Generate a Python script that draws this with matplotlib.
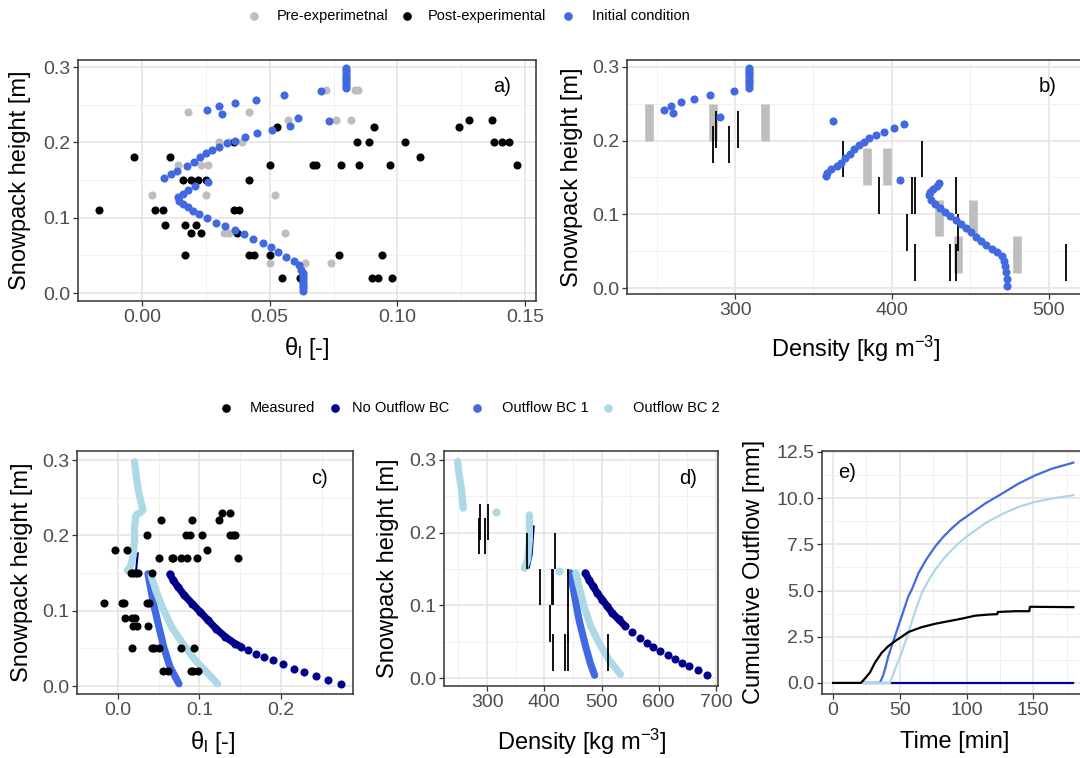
import matplotlib
matplotlib.use("Agg")
import matplotlib.pyplot as plt
from matplotlib.lines import Line2D
from matplotlib import font_manager as fm

# ------------------------------------------------------------------ data
# Panel a -- liquid water content profiles
pre_theta = [0.018, 0.042, 0.072, 0.0834, 0.0845, 0.057, 0.076, 0.082, 0.030, 0.034,
             0.039, 0.014, 0.023, 0.026, 0.004, 0.025, 0.052, 0.032, 0.034, 0.056,
             0.050, 0.064, 0.074]
pre_h = [0.24, 0.24, 0.27, 0.27, 0.27, 0.23, 0.23, 0.23, 0.20, 0.20,
         0.20, 0.17, 0.17, 0.17, 0.13, 0.13, 0.13, 0.08, 0.08, 0.08,
         0.04, 0.04, 0.04]

post_theta = [-0.017, -0.003, 0.011, 0.005, 0.008, 0.009, 0.017, 0.021, 0.019, 0.023,
              0.017, 0.016, 0.019, 0.022, 0.025, 0.042, 0.036, 0.036, 0.038, 0.037,
              0.042, 0.044, 0.050, 0.050, 0.053, 0.055, 0.062, 0.067, 0.068, 0.078,
              0.077, 0.084, 0.085, 0.089, 0.091, 0.094, 0.090, 0.0925, 0.098, 0.097,
              0.103, 0.109, 0.124, 0.128, 0.137, 0.138, 0.141, 0.1436, 0.147]
post_h = [0.11, 0.18, 0.18, 0.11, 0.11, 0.09, 0.09, 0.09, 0.08, 0.08,
          0.05, 0.15, 0.15, 0.15, 0.15, 0.15, 0.20, 0.11, 0.11, 0.08,
          0.05, 0.05, 0.05, 0.17, 0.22, 0.02, 0.02, 0.17, 0.17, 0.17,
          0.05, 0.20, 0.17, 0.20, 0.22, 0.05, 0.02, 0.02, 0.02, 0.17,
          0.20, 0.18, 0.22, 0.23, 0.23, 0.20, 0.20, 0.20, 0.17]

init_theta = [0.0797, 0.0797, 0.0797, 0.0797, 0.0797, 0.0797, 0.0797, 0.0797, 0.0797, 0.0797,
              0.070, 0.0554, 0.0448, 0.0365, 0.0302, 0.0255, 0.0313, 0.0612, 0.0732, 0.0578,
              0.051, 0.0452, 0.0402, 0.0365, 0.0332, 0.0302, 0.0275, 0.0251, 0.0228, 0.0204,
              0.0177, 0.0136, 0.0112, 0.0084, 0.0259, 0.0207, 0.018, 0.016, 0.0142, 0.0146,
              0.016, 0.018, 0.020, 0.0223, 0.0255, 0.0289, 0.0323, 0.0364, 0.040, 0.0436,
              0.0473, 0.0504, 0.0534, 0.0564, 0.0595, 0.0613, 0.0623, 0.0632, 0.0632, 0.0632,
              0.0632, 0.0632, 0.0632, 0.0632, 0.0632, 0.0632]
init_h_a = [0.2985, 0.296, 0.293, 0.290, 0.287, 0.284, 0.281, 0.278, 0.275, 0.272,
            0.2676, 0.2623, 0.2565, 0.252, 0.2477, 0.2423, 0.2375, 0.232, 0.2277, 0.222,
            0.2166, 0.212, 0.207, 0.2024, 0.1988, 0.1944, 0.190, 0.1855, 0.180, 0.1744,
            0.1687, 0.1624, 0.158, 0.1522, 0.148, 0.142, 0.1367, 0.132, 0.128, 0.1225,
            0.118, 0.1136, 0.109, 0.1047, 0.099, 0.0932, 0.0888, 0.0834, 0.078, 0.0723,
            0.0666, 0.0613, 0.0546, 0.0479, 0.0426, 0.0368, 0.0302, 0.027, 0.024, 0.021,
            0.018, 0.015, 0.012, 0.009, 0.006, 0.003]

# Panel b -- density profiles
pre_rho = [245, 286, 319, 384, 397, 430, 452, 442, 480]
pre_rho_lo = [0.20, 0.20, 0.20, 0.14, 0.14, 0.07, 0.07, 0.02, 0.02]
pre_rho_hi = [0.25, 0.25, 0.25, 0.19, 0.19, 0.12, 0.12, 0.07, 0.07]

post_rho = [286, 288, 296, 302, 369, 419, 392, 413, 415, 441, 410, 442, 415, 437, 441, 511]
post_rho_lo = [0.17, 0.19, 0.17, 0.19, 0.15, 0.15, 0.10, 0.10, 0.10, 0.10, 0.05, 0.05, 0.01, 0.01, 0.01, 0.01]
post_rho_hi = [0.22, 0.24, 0.22, 0.24, 0.20, 0.20, 0.15, 0.15, 0.15, 0.15, 0.10, 0.10, 0.06, 0.06, 0.06, 0.06]

init_rho = [308.8, 308.8, 308.8, 308.8, 308.8, 308.8, 308.8, 308.8, 308.8, 308.8,
            299.6, 284.2, 273.6, 265.3, 259.3, 254.3, 260.4, 290.1, 362.6, 407.7,
            401.1, 395.0, 389.7, 385.7, 382.4, 379.1, 375.8, 373.0, 370.3, 367.5,
            364.8, 361.5, 358.9, 358.2, 405.5, 430.1, 428.6, 426.4, 424.2, 423.5,
            425.3, 427.5, 430.8, 434.0, 437.4, 440.7, 444.0, 447.3, 450.5, 453.8,
            457.1, 460.4, 463.7, 467.0, 470.3, 471.9, 472.5, 473.0, 473.2, 473.2]
init_h_b = [0.2985, 0.296, 0.293, 0.290, 0.287, 0.284, 0.281, 0.278, 0.275, 0.272,
            0.267, 0.262, 0.2566, 0.252, 0.2475, 0.2416, 0.237, 0.2315, 0.227, 0.222,
            0.217, 0.212, 0.2078, 0.203, 0.1986, 0.194, 0.188, 0.182, 0.177, 0.170,
            0.165, 0.161, 0.156, 0.152, 0.147, 0.1425, 0.138, 0.134, 0.130, 0.1256,
            0.1196, 0.1137, 0.108, 0.1027, 0.0973, 0.0922, 0.0868, 0.0817, 0.0763, 0.0694,
            0.0639, 0.058, 0.0534, 0.0489, 0.0434, 0.0374, 0.0306, 0.0215, 0.0123, 0.0032]

# Panel c -- simulated liquid water content
noout_theta = [0.064, 0.068, 0.0738, 0.0816, 0.0913, 0.101, 0.1107, 0.1204, 0.132, 0.1437,
               0.1515, 0.160, 0.1697, 0.1794, 0.190, 0.2031, 0.2155, 0.2283, 0.2427, 0.2583, 0.2738]
noout_h = [0.1484, 0.1405, 0.1316, 0.1205, 0.1094, 0.0984, 0.0873, 0.0762, 0.0651, 0.0563,
           0.0518, 0.0474, 0.043, 0.0385, 0.0341, 0.0297, 0.023, 0.0186, 0.0137, 0.0084, 0.0031]
bc1_theta = [0.037, 0.0408, 0.0447, 0.0505, 0.0563, 0.064, 0.075]
bc1_h = [0.149, 0.127, 0.105, 0.0784, 0.0518, 0.0253, 0.003]
bc2_theta = [0.0408, 0.0466, 0.0544, 0.066, 0.0796, 0.0951, 0.1107, 0.1223]
bc2_h = [0.147, 0.127, 0.105, 0.0784, 0.0563, 0.034, 0.0164, 0.003]
upper_theta = [0.0206, 0.0221, 0.0252, 0.0283, 0.031, 0.0272, 0.0221, 0.0206, 0.0206, 0.0194,
               0.0175, 0.0144, 0.0117]
upper_h = [0.2977, 0.282, 0.26, 0.2446, 0.2335, 0.23, 0.2268, 0.211, 0.1936, 0.18,
           0.167, 0.156, 0.1537]
noout_upper_theta = [0.0245, 0.0225]
noout_upper_h = [0.176, 0.154]

# Panel d -- simulated density
noout_rho = [472, 478, 485.5, 492.5, 501, 510, 518.5, 530, 541.6, 553,
             566.5, 579, 590.8, 602.3, 615.6, 628.3, 640, 652.6, 668.8, 685]
noout_rho_h = [0.1445, 0.135, 0.126, 0.117, 0.108, 0.0988, 0.0896, 0.0805, 0.0713, 0.063,
               0.0553, 0.0485, 0.043, 0.037, 0.0311, 0.0256, 0.021, 0.0165, 0.011, 0.0037]
bc1_rho = [446, 452, 460.7, 472, 481, 488]
bc1_rho_h = [0.1445, 0.117, 0.08, 0.044, 0.019, 0.0037]
bc2_rho = [455, 460.7, 469.4, 481, 495.4, 512.7, 533]
bc2_rho_h = [0.1445, 0.126, 0.0988, 0.0713, 0.0485, 0.0256, 0.005]
upper_rho1 = [248.6, 250.9, 255.5, 258.4]
upper_rho1_h = [0.2977, 0.2817, 0.2588, 0.2336]
upper_rho2 = [374, 374, 371, 365.3]
upper_rho2_h = [0.2245, 0.19, 0.163, 0.151]
upper_pts_rho = [316.2, 426]
upper_pts_h = [0.2277, 0.1468]
noout_upper_rho = [381.5, 378, 373]
noout_upper_rho_h = [0.2085, 0.17, 0.152]

# Panel e -- cumulative outflow
meas_t = [0, 20.8, 23.8, 27.6, 31.4, 36.4, 41.4, 46.4, 51.4, 56.4, 61.5, 66.5, 76.5,
          86.5, 96.6, 106.6, 116.6, 123, 123.5, 136.7, 147, 147.5, 180]
meas_q = [0, 0, 0.23, 0.56, 1.1, 1.63, 1.99, 2.26, 2.5, 2.75, 2.89, 3.02, 3.2,
          3.34, 3.48, 3.64, 3.7, 3.72, 3.84, 3.88, 3.88, 4.12, 4.1]
noout_t = [22, 180]
noout_q = [0, 0]
bc1_t = [22, 35, 37.5, 39.5, 41.4, 43.9, 46.4, 48.9, 51.4, 53.9, 56.4, 58.9, 64, 70, 76.5,
         82.5, 89, 95, 101.6, 114, 126.7, 139, 151.7, 164.3, 180]
bc1_q = [0, 0, 0.4, 0.9, 1.45, 1.99, 2.53, 3.07, 3.6, 4.15, 4.69, 5.04, 5.94, 6.7, 7.38,
         7.9, 8.37, 8.75, 9.08, 9.71, 10.25, 10.79, 11.24, 11.6, 11.92]
bc2_t = [22, 42.6, 44.5, 46.4, 51.4, 56.4, 61.5, 66.5, 71.5, 76.5, 82.5, 89, 95, 101.6,
         114, 126.7, 139, 151.7, 164.3, 180]
bc2_q = [0, 0, 0.35, 0.74, 1.63, 2.71, 3.88, 4.87, 5.55, 6.12, 6.7, 7.2, 7.62, 8.0,
         8.64, 9.14, 9.53, 9.8, 9.98, 10.16]

# ------------------------------------------------------------------ style
names = {f.name for f in fm.fontManager.ttflist}
FONT = "Liberation Sans" if "Liberation Sans" in names else "DejaVu Sans"
plt.rcParams["font.family"] = [FONT, "DejaVu Sans"]
plt.rcParams["mathtext.fontset"] = "custom"
plt.rcParams["mathtext.rm"] = FONT
plt.rcParams["mathtext.it"] = FONT
plt.rcParams["axes.unicode_minus"] = True

GREY = "#BEBEBE"
BLUE = "#4169E1"
NAVY = "#00008B"
LBLUE = "#ADD8E6"
W, H = 1080, 758

fig = plt.figure(figsize=(W / 100, H / 100), dpi=100)


def add_ax(l, r, t, b):
    return fig.add_axes([l / W, 1 - b / H, (r - l) / W, (b - t) / H])


def ftext(x, y, s, **kw):
    fig.text(x / W, 1 - y / H, s, **kw)


def style(ax, xlim, ylim, xmaj, xlab, xmin, ymaj, ylab, ymin):
    ax.set_xlim(xlim)
    ax.set_ylim(ylim)
    ax.set_xticks(xmaj)
    ax.set_xticklabels(xlab)
    ax.set_xticks(xmin, minor=True)
    ax.set_yticks(ymaj)
    ax.set_yticklabels(ylab)
    ax.set_yticks(ymin, minor=True)
    ax.grid(which="major", color="#E5E5E5", lw=1.2)
    ax.grid(which="minor", color="#F0F0F0", lw=0.7)
    ax.set_axisbelow(True)
    for s in ax.spines.values():
        s.set_color("#333333")
        s.set_linewidth(1.1)
    ax.tick_params(which="major", length=3.5, width=0.9, color="#333333",
                   labelsize=14, labelcolor="#4D4D4D", pad=2)
    ax.tick_params(which="minor", length=0)


Y_MAJ = [0.0, 0.1, 0.2, 0.3]
Y_LAB = ["0.0", "0.1", "0.2", "0.3"]
Y_MIN = [0.05, 0.15, 0.25]
PT = 34
TL = 17
THETA = "\u03b8$_\\mathregular{l}$ [-]"
DENS = "Density [kg m$^{\\mathregular{\u22123}}$]"

# ---- panel a
ax = add_ax(78, 536, 60, 301)
style(ax, (-0.0251, 0.1543), (-0.0106, 0.3093),
      [0.0, 0.05, 0.10, 0.15], ["0.00", "0.05", "0.10", "0.15"], [-0.025, 0.025, 0.075, 0.125],
      Y_MAJ, Y_LAB, Y_MIN)
ax.scatter(pre_theta, pre_h, s=PT, color=GREY, linewidths=0, zorder=3)
ax.scatter(post_theta, post_h, s=PT, color="black", linewidths=0, zorder=3)
ax.scatter(init_theta, init_h_a, s=PT, color=BLUE, linewidths=0, zorder=4)
ftext(502, 86, "a)", fontsize=14.5, ha="center", va="center")
ftext(307, 348, THETA, fontsize=TL, ha="center", va="center")
ftext(20, 180, "Snowpack height [m]", fontsize=TL, ha="center", va="center", rotation=90)

# ---- panel b
ax = add_ax(627, 1083, 60, 294)
style(ax, (231, 522), (-0.008, 0.3093),
      [300, 400, 500], ["300", "400", "500"], [250, 350, 450],
      Y_MAJ, Y_LAB, Y_MIN)
ax.vlines(pre_rho, pre_rho_lo, pre_rho_hi, color=GREY, lw=6.2, zorder=2)
ax.vlines(post_rho, post_rho_lo, post_rho_hi, color="black", lw=1.3, zorder=3)
ax.scatter(init_rho, init_h_b, s=PT, color=BLUE, linewidths=0, zorder=4)
ftext(1048, 86, "b)", fontsize=14.5, ha="center", va="center")
ftext(856, 349, DENS, fontsize=TL, ha="center", va="center")
ftext(572, 177, "Snowpack height [m]", fontsize=TL, ha="center", va="center", rotation=90)

# ---- panel c
LW = 5.2
ax = add_ax(77, 353, 451, 694)
style(ax, (-0.0326, 0.2884), (-0.0106, 0.312),
      [0.0, 0.1, 0.2], ["0.0", "0.1", "0.2"], [-0.05, 0.05, 0.15, 0.25],
      Y_MAJ, Y_LAB, Y_MIN)
ax.plot(noout_theta[:11], noout_h[:11], color=NAVY, lw=LW, solid_capstyle="round", zorder=2)
ax.scatter(noout_theta, noout_h, s=PT, color=NAVY, linewidths=0, zorder=2)
ax.plot(noout_upper_theta, noout_upper_h, color=NAVY, lw=1.5, zorder=2)
ax.plot(bc1_theta, bc1_h, color=BLUE, lw=LW, solid_capstyle="round", zorder=3)
ax.plot(bc2_theta, bc2_h, color=LBLUE, lw=LW, solid_capstyle="round", zorder=4)
ax.plot(upper_theta, upper_h, color=LBLUE, lw=LW, solid_capstyle="round",
        solid_joinstyle="round", zorder=4)
ax.scatter(post_theta, post_h, s=PT, color="black", linewidths=0, zorder=5)
ftext(320, 479, "c)", fontsize=14.5, ha="center", va="center")
ftext(213, 742, THETA, fontsize=TL, ha="center", va="center")
ftext(22, 572, "Snowpack height [m]", fontsize=TL, ha="center", va="center", rotation=90)

# ---- panel d
ax = add_ax(444, 718, 451, 686)
style(ax, (224.8, 703.5), (-0.011, 0.3123),
      [300, 400, 500, 600, 700], ["300", "400", "500", "600", "700"],
      [250, 350, 450, 550, 650], Y_MAJ, Y_LAB, Y_MIN)
ax.plot(noout_rho[:9], noout_rho_h[:9], color=NAVY, lw=LW, solid_capstyle="round", zorder=2)
ax.scatter(noout_rho, noout_rho_h, s=PT, color=NAVY, linewidths=0, zorder=2)
ax.plot(noout_upper_rho, noout_upper_rho_h, color=NAVY, lw=1.5, zorder=2)
ax.plot(bc1_rho, bc1_rho_h, color=BLUE, lw=LW, solid_capstyle="round", zorder=3)
ax.plot(bc2_rho, bc2_rho_h, color=LBLUE, lw=LW, solid_capstyle="round", zorder=4)
ax.plot(upper_rho1, upper_rho1_h, color=LBLUE, lw=LW, solid_capstyle="round", zorder=4)
ax.plot(upper_rho2, upper_rho2_h, color=LBLUE, lw=LW, solid_capstyle="round", zorder=4)
ax.scatter(upper_pts_rho, upper_pts_h, s=PT, color=LBLUE, linewidths=0, zorder=4)
ax.vlines(post_rho, post_rho_lo, post_rho_hi, color="black", lw=1.3, zorder=5)
ftext(688, 479, "d)", fontsize=14.5, ha="center", va="center")
ftext(582, 742, DENS, fontsize=TL, ha="center", va="center")
ftext(388, 568, "Snowpack height [m]", fontsize=TL, ha="center", va="center", rotation=90)

# ---- panel e
ax = add_ax(822, 1084, 451, 694)
style(ax, (-8.3, 188), (-0.6, 12.55),
      [0, 50, 100, 150], ["0", "50", "100", "150"], [25, 75, 125, 175],
      [0, 2.5, 5, 7.5, 10, 12.5], ["0.0", "2.5", "5.0", "7.5", "10.0", "12.5"],
      [1.25, 3.75, 6.25, 8.75, 11.25])
ax.plot(noout_t, noout_q, color=NAVY, lw=1.6, zorder=2)
ax.plot(bc1_t, bc1_q, color=BLUE, lw=1.6, zorder=3)
ax.plot(bc2_t, bc2_q, color=LBLUE, lw=1.6, zorder=4)
ax.plot(meas_t, meas_q, color="black", lw=1.6, zorder=5)
ftext(847, 472, "e)", fontsize=14.5, ha="center", va="center")
ftext(955, 742, "Time [min]", fontsize=TL, ha="center", va="center")
ftext(754, 572, "Cumulative Outflow [mm]", fontsize=TL, ha="center", va="center", rotation=90)


# ---- legends
def legend_item(xdot, xtext, y, color, label):
    fig.add_artist(Line2D([xdot / W], [1 - y / H], marker="o", markersize=5.2,
                          color=color, linestyle="none", transform=fig.transFigure))
    ftext(xtext, y, label, fontsize=10.5, ha="left", va="center")


legend_item(254, 277, 16, GREY, "Pre-experimetnal")
legend_item(407, 428, 16, "black", "Post-experimental")
legend_item(568, 592, 16, BLUE, "Initial condition")

legend_item(226, 250, 408, "black", "Measured")
legend_item(335, 352, 408, NAVY, "No Outflow BC")
legend_item(477, 502, 408, BLUE, "Outflow BC 1")
legend_item(608, 633, 408, LBLUE, "Outflow BC 2")

fig.savefig("out.png", dpi=100)
